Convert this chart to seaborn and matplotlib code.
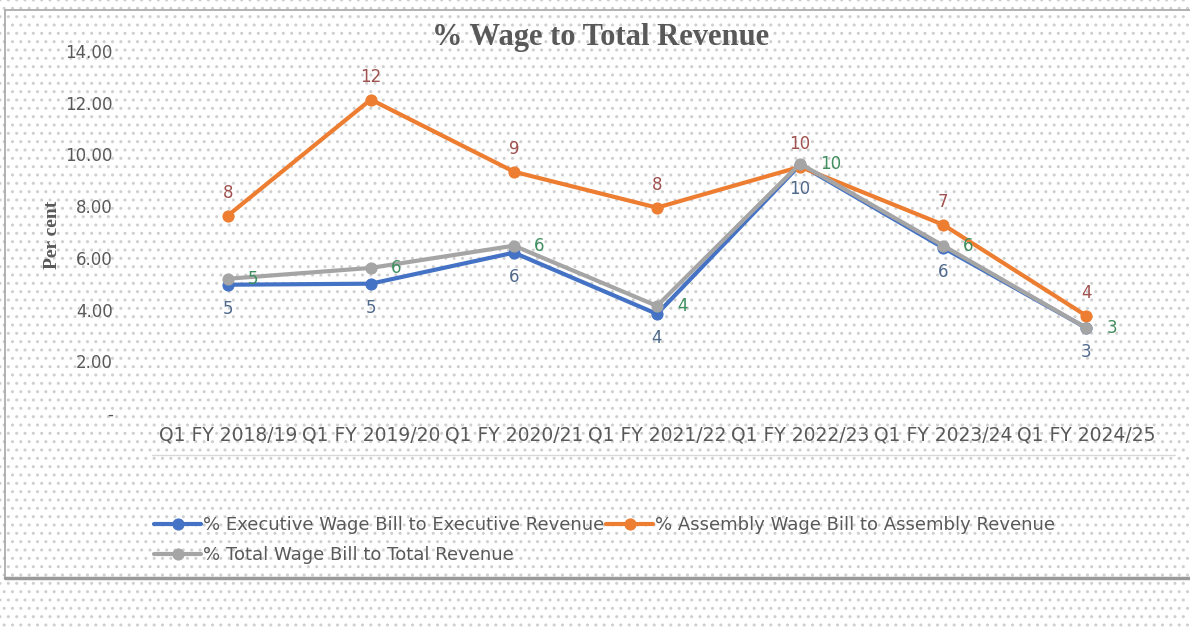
import pandas as pd
import seaborn as sns
import matplotlib.pyplot as plt
from matplotlib.patches import Rectangle
from matplotlib.lines import Line2D

# Data
quarters = ["Q1 FY 2018/19", "Q1 FY 2019/20", "Q1 FY 2020/21", "Q1 FY 2021/22",
            "Q1 FY 2022/23", "Q1 FY 2023/24", "Q1 FY 2024/25"]
executive = [4.96, 5.00, 6.20, 3.83, 9.60, 6.39, 3.29]
assembly = [7.63, 12.12, 9.33, 7.94, 9.52, 7.28, 3.76]
total = [5.19, 5.61, 6.47, 4.14, 9.64, 6.47, 3.29]

names = ["% Executive Wage Bill to Executive Revenue",
         "% Assembly Wage Bill to Assembly Revenue",
         "% Total Wage Bill to Total Revenue"]
colors = ["#4472C4", "#ED7D31", "#A5A5A5"]
label_colors = ["#506A8C", "#A0504E", "#3F8F5F"]

sns.set_style("white")
serif = ["Liberation Serif", "DejaVu Serif"]

fig = plt.figure(figsize=(11.9, 6.31), dpi=100)
fig.patch.set_facecolor("white")

# dotted background + frame
bg = Rectangle((0, 0), 1, 1, transform=fig.transFigure, facecolor="white",
               edgecolor="#CFCFCF", hatch="..", linewidth=0, zorder=-5)
fig.patches.append(bg)
frame = Rectangle((5 / 1190, 1 - 578 / 631), 1.0, (578 - 10) / 631,
                  transform=fig.transFigure, fill=False, edgecolor="#A6A6A6",
                  linewidth=1.2, zorder=-4)
fig.patches.append(frame)
fig.add_artist(Line2D([5 / 1190, 1], [1 - 578 / 631] * 2, transform=fig.transFigure,
                      color="#9A9A9A", linewidth=2.5))

ax = fig.add_axes([149 / 1190, 1 - 413 / 631, (1165 - 149) / 1190, (413 - 38) / 631])
ax.set_facecolor("none")

series = [executive, assembly, total]
for vals, name, col in zip(series, names, colors):
    df = pd.DataFrame({"quarter": quarters, "value": vals})
    sns.lineplot(data=df, x="quarter", y="value", sort=False, ax=ax, color=col,
                 linewidth=3, marker="o", markersize=8, markeredgecolor=col,
                 label=name)

# data labels
for i, v in enumerate(assembly):
    ax.annotate(f"{v:.0f}", (i, v), xytext=(0, 23), textcoords="offset pixels",
                ha="center", va="center", fontsize=12, color=label_colors[1])
for i, v in enumerate(executive):
    ax.annotate(f"{v:.0f}", (i, v), xytext=(0, -24), textcoords="offset pixels",
                ha="center", va="center", fontsize=12, color=label_colors[0])
for i, v in enumerate(total):
    ax.annotate(f"{v:.0f}", (i, v), xytext=(20, 0), textcoords="offset pixels",
                ha="left", va="center", fontsize=12, color=label_colors[2])

ax.set_xlim(-0.55, 6.55)
ax.set_ylim(0, 14.5)
ax.set_yticks(range(0, 15, 2))
ax.set_yticklabels(["-"] + [f"{t:.2f}" for t in range(2, 15, 2)],
                   fontsize=12, color="#595959")
ax.tick_params(axis="y", length=0, pad=26)
ax.tick_params(axis="x", length=0, pad=9)
for lbl in ax.get_xticklabels():
    lbl.set_fontsize(13.5)
    lbl.set_color("#595959")
ax.set_xlabel("")
ax.set_ylabel("Per cent", fontsize=14, fontweight="bold", color="#595959",
              family=serif)
ax.yaxis.set_label_coords(-0.087, 0.475)
for s in ax.spines.values():
    s.set_visible(False)

fig.text(0.505, 1 - 38 / 631, "% Wage to Total Revenue", ha="center", va="center",
         fontsize=22, fontweight="bold", color="#595959", family=serif)

# line under the category labels
fig.add_artist(Line2D([152 / 1190, 1175 / 1190], [1 - 455 / 631] * 2,
                      transform=fig.transFigure, color="#D9D9D9", linewidth=1))

# legend
h, l = ax.get_legend_handles_labels()
ax.get_legend().remove()
order = [0, 2, 1]
leg = fig.legend([h[k] for k in order], [l[k] for k in order], ncol=2,
                 loc="upper left", bbox_to_anchor=(138 / 1190, 1 - 500 / 631),
                 frameon=False, handlelength=2.6, handletextpad=0.1,
                 columnspacing=0.1, labelspacing=0.65, prop={"size": 13})
for t in leg.get_texts():
    t.set_color("#595959")

fig.savefig("out.png", dpi=100)
